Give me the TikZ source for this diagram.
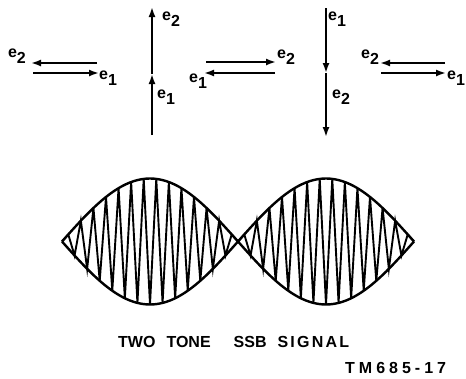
\documentclass[tikz,border=0pt]{standalone}
\usepackage{fontspec}
\setmainfont{Liberation Sans}
\usetikzlibrary{arrows.meta}
\newcommand{\evec}[1]{e\raisebox{-0.7ex}{#1}}

\begin{document}
\begin{tikzpicture}[x=1pt, y=-1pt,
    vec/.style={line width=1.8pt, -{Latex[length=10pt, width=7pt]}},
    lbl/.style={inner sep=0pt, font=\fontsize{16}{16}\selectfont\bfseries},
    env/.style={line width=2.4pt, line join=round},
    wave/.style={line width=1.9pt, line join=miter},
    caption/.style={inner sep=0pt, anchor=west, font=\fontsize{16}{16}\selectfont\bfseries}
]
    \useasboundingbox (0,0) rectangle (466,378);

    % first pair: opposite
    \coordinate (p1r) at (97,63);
    \coordinate (p1l) at (31,63);
    \coordinate (q1l) at (33,73);
    \coordinate (q1r) at (99,73);
    \draw[vec] (p1r) -- (p1l);
    \draw[vec] (q1l) -- (q1r);
    \node[lbl] (l1b) at (17,56) {\evec{2}};
    \node[lbl] (l1a) at (108,78) {\evec{1}};

    % second: in phase, upward
    \coordinate (v2bot) at (152,135);
    \coordinate (v2mid) at (152,74);
    \coordinate (v2top) at (152,7);
    \draw[vec] (v2bot) -- (v2mid);
    \draw[vec] (v2mid) -- (v2top);
    \node[lbl] (l2b) at (171,19) {\evec{2}};
    \node[lbl] (l2a) at (166,97) {\evec{1}};

    % third pair: opposite
    \coordinate (p3l) at (206,62);
    \coordinate (p3r) at (276,62);
    \coordinate (q3r) at (275,73);
    \coordinate (q3l) at (204,73);
    \draw[vec] (p3l) -- (p3r);
    \draw[vec] (q3r) -- (q3l);
    \node[lbl] (l3b) at (286,57) {\evec{2}};
    \node[lbl] (l3a) at (198,81) {\evec{1}};

    % fourth: in phase, downward
    \coordinate (v4top) at (326,8);
    \coordinate (v4mid) at (326,73);
    \coordinate (v4bot) at (326,137);
    \draw[vec] (v4top) -- (v4mid);
    \draw[vec] (v4mid) -- (v4bot);
    \node[lbl] (l4a) at (337,19) {\evec{1}};
    \node[lbl] (l4b) at (341,97) {\evec{2}};

    % fifth pair: opposite
    \coordinate (p5r) at (445,63);
    \coordinate (p5l) at (380,63);
    \coordinate (q5l) at (381,73);
    \coordinate (q5r) at (446,73);
    \draw[vec] (p5r) -- (p5l);
    \draw[vec] (q5l) -- (q5r);
    \node[lbl] (l5b) at (370,57) {\evec{2}};
    \node[lbl] (l5a) at (456,78) {\evec{1}};

    % two tone signal
    \foreach \k in {0,...,56} {
        \pgfmathsetmacro{\wx}{62+\k*6.285714}
        \pgfmathsetmacro{\wy}{241.5+cos(180*\k)*63*abs(sin(\k*6.428571))}
        \coordinate (w\k) at (\wx,\wy);
    }
    \foreach \k in {0,...,88} {
        \pgfmathsetmacro{\ex}{62+\k*4}
        \pgfmathsetmacro{\ey}{63*abs(sin(\k*4.090909))}
        \coordinate (et\k) at (\ex,241.5-\ey);
        \coordinate (eb\k) at (\ex,241.5+\ey);
    }
    \draw[wave] (w0) \foreach \k in {1,...,56} { -- (w\k) };
    \draw[env] (et0) \foreach \k in {1,...,88} { -- (et\k) };
    \draw[env] (eb0) \foreach \k in {1,...,88} { -- (eb\k) };

    \node[caption] (title) at (118,341.5)
        {TWO\hspace{11pt}TONE\hspace{23pt}SSB\hspace{11pt}{\addfontfeature{LetterSpace=14}SIGNAL}};
    \node[inner sep=0pt, anchor=west, font=\fontsize{16}{16}\selectfont\bfseries\addfontfeature{LetterSpace=25}] (tag) at (345,368) {TM685-17};
\end{tikzpicture}
\end{document}
